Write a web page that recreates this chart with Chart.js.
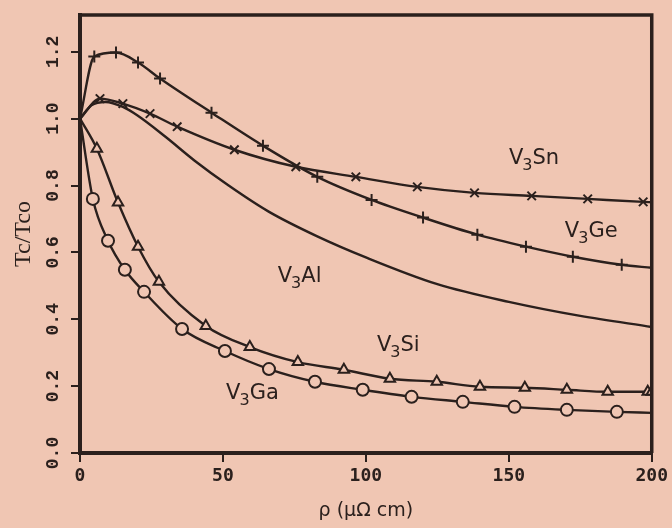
<!DOCTYPE html>
<html>
<head>
<meta charset="utf-8">
<script src="https://cdn.jsdelivr.net/npm/chart.js@4.4.0/dist/chart.umd.min.js"></script>
<style>
  html, body { margin: 0; padding: 0; background: #f0c6b3; }
  #wrap { width: 672px; height: 528px; }
</style>
</head>
<body>
<div id="wrap"><canvas id="chart" width="672" height="528"></canvas></div>
<script>
// rho (uOhm cm) vs Tc/Tco
const snX = [0, 7, 15, 24.5, 34, 54, 75.5, 96.5, 118, 138, 158, 177.6, 197, 200];
const snY = [1.0, 1.06, 1.045, 1.015, 0.976, 0.907, 0.856, 0.826, 0.796, 0.778, 0.769, 0.76, 0.751, 0.75];

const geX = [0, 5, 12.6, 20.3, 28, 46, 64, 83, 102, 120, 139, 156, 172.4, 189.5, 200];
const geY = [1.0, 1.186, 1.198, 1.168, 1.12, 1.018, 0.919, 0.826, 0.757, 0.704, 0.653, 0.617, 0.587, 0.563, 0.554];

const alX = [0, 4, 9, 15, 20, 30, 40, 52, 66, 83, 100, 125, 150, 175, 200];
const alY = [1.0, 1.04, 1.05, 1.035, 1.01, 0.945, 0.875, 0.80, 0.722, 0.648, 0.585, 0.505, 0.452, 0.41, 0.377];

const siX = [0, 5.9, 13.3, 20.3, 27.6, 44, 59.4, 76.2, 92.3, 108.4, 124.8, 139.9, 155.6, 170.3, 184.6, 198.6, 200];
const siY = [1.0, 0.91, 0.749, 0.617, 0.512, 0.38, 0.317, 0.272, 0.249, 0.222, 0.213, 0.198, 0.195, 0.189, 0.183, 0.183, 0.183];

const gaX = [0, 4.5, 9.8, 15.7, 22.4, 35.7, 50.7, 66.1, 82.2, 98.9, 116, 133.9, 152, 170.3, 187.8, 200];
const gaY = [1.0, 0.76, 0.635, 0.548, 0.482, 0.371, 0.305, 0.251, 0.213, 0.189, 0.168, 0.153, 0.138, 0.129, 0.123, 0.12];

const yTicks = [0.0, 0.2, 0.4, 0.6, 0.8, 1.0, 1.2];

// curve names: base, subscript, rest, and where they sit (data coords)
const labelNames = [["V", "3", "Sn"], ["V", "3", "Ge"], ["V", "3", "Al"], ["V", "3", "Si"], ["V", "3", "Ga"]];
const labelX = [159, 179, 77, 111.5, 60.5];
const labelY = [0.886, 0.668, 0.533, 0.326, 0.183];

const ink = "#2b201d";
const paper = "#f0c6b3";

const toPoints = (xs, ys) => xs.map((x, i) => ({ x: x, y: ys[i] }));

// markers sit on the measured points only, not on the end points of the curve
const series = (label, xs, ys, style, marks) => ({
  label: label,
  data: toPoints(xs, ys),
  borderColor: ink,
  borderWidth: 2.4,
  pointStyle: style,
  pointRadius: xs.map((x, i) => (marks && i > 0 && i < xs.length - (marks === "all" ? 0 : 1)) ? 6 : 0),
  pointBorderColor: ink,
  pointBorderWidth: 2,
  pointBackgroundColor: paper,
  cubicInterpolationMode: "monotone",
  fill: false
});

const paperBg = {
  id: "paperBg",
  beforeDraw(chart) {
    const ctx = chart.ctx;
    ctx.save();
    ctx.fillStyle = paper;
    ctx.fillRect(0, 0, chart.width, chart.height);
    ctx.restore();
  }
};

const frameAndText = {
  id: "frameAndText",
  afterDraw(chart) {
    const ctx = chart.ctx;
    const a = chart.chartArea;
    const xs = chart.scales.x;
    const ys = chart.scales.y;
    ctx.save();
    ctx.strokeStyle = ink;
    ctx.lineWidth = 3.5;
    ctx.beginPath();
    ctx.moveTo(a.left - 2, a.top);
    ctx.lineTo(a.right, a.top);
    ctx.lineTo(a.right, a.bottom);
    ctx.stroke();

    // y tick labels, turned to read bottom to top
    ctx.fillStyle = ink;
    ctx.font = "bold 18px 'Liberation Mono'";
    ctx.textAlign = "center";
    ctx.textBaseline = "middle";
    yTicks.forEach(v => {
      const py = ys.getPixelForValue(v);
      ctx.save();
      ctx.translate(53, py);
      ctx.rotate(-Math.PI / 2);
      ctx.fillText(v.toFixed(1), 0, 0);
      ctx.restore();
    });

    // curve names with subscript 3
    ctx.textAlign = "left";
    ctx.textBaseline = "alphabetic";
    labelNames.forEach((parts, i) => {
      const big = "21px 'DejaVu Sans'";
      const small = "16px 'DejaVu Sans'";
      ctx.font = big;
      const w0 = ctx.measureText(parts[0]).width;
      const w2 = ctx.measureText(parts[2]).width;
      ctx.font = small;
      const w1 = ctx.measureText(parts[1]).width;
      const total = w0 + w1 + w2;
      let px = xs.getPixelForValue(labelX[i]) - total / 2;
      const py = ys.getPixelForValue(labelY[i]) + 7;
      ctx.font = big;
      ctx.fillText(parts[0], px, py);
      px += w0 - 1;
      ctx.font = small;
      ctx.fillText(parts[1], px, py + 6);
      px += w1;
      ctx.font = big;
      ctx.fillText(parts[2], px, py);
    });
    ctx.restore();
  }
};

new Chart(document.getElementById("chart"), {
  type: "line",
  data: {
    datasets: [
      series("V3Sn", snX, snY, "crossRot", true),
      series("V3Ge", geX, geY, "cross", true),
      series("V3Al", alX, alY, "circle", false),
      series("V3Si", siX, siY, "triangle", "all"),
      series("V3Ga", gaX, gaY, "circle", true)
    ]
  },
  options: {
    responsive: false,
    animation: false,
    layout: { padding: { left: 0, right: 20, top: 15, bottom: 0 } },
    plugins: {
      legend: { display: false },
      tooltip: { enabled: false }
    },
    scales: {
      x: {
        type: "linear",
        min: 0,
        max: 200,
        afterFit: s => { s.height = 75; },
        ticks: {
          stepSize: 50,
          color: ink,
          padding: 4,
          font: { family: "DejaVu Sans Mono", size: 18, weight: "bold" }
        },
        grid: { drawOnChartArea: false, color: ink, lineWidth: 2, tickLength: 9 },
        border: { color: ink, width: 4 },
        title: {
          display: true,
          text: "ρ (μΩ cm)",
          color: ink,
          padding: { top: 2, bottom: 6 },
          font: { family: "DejaVu Sans", size: 19 }
        }
      },
      y: {
        type: "linear",
        min: 0,
        max: 1.31,
        afterFit: s => { s.width = 80; },
        afterBuildTicks: s => { s.ticks = yTicks.map(v => ({ value: v })); },
        ticks: { display: false },
        grid: { drawOnChartArea: false, color: ink, lineWidth: 2, tickLength: 9 },
        border: { color: ink, width: 4 },
        title: {
          display: true,
          text: "Tc/Tco",
          color: ink,
          padding: { top: 9, bottom: 0 },
          font: { family: "Liberation Serif", size: 24 }
        }
      }
    }
  },
  plugins: [paperBg, frameAndText]
});
</script>
</body>
</html>
